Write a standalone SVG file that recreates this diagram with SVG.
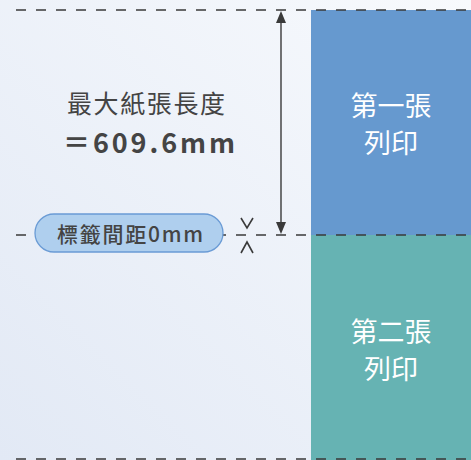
<svg xmlns="http://www.w3.org/2000/svg" width="471" height="460" viewBox="0 0 471 460">
<defs>
<linearGradient id="bg" x1="1" y1="0" x2="0" y2="1">
<stop offset="0" stop-color="#F8FAFD"/>
<stop offset="1" stop-color="#E2E9F5"/>
</linearGradient>
<style>
.dash{stroke:#3a3a3a;stroke-width:1.3;stroke-dasharray:10 10;fill:none}
.cjk{font-family:"Noto Sans CJK TC","Noto Sans",sans-serif}
.dark{fill:#444}
.white{fill:#fff}
</style>
</defs>
<rect width="471" height="460" fill="url(#bg)"/>
<g id="sheet1">
<rect x="311" y="10" width="160" height="225" fill="#6699CF"/>
<text class="cjk white" x="391" y="116" font-size="27" text-anchor="middle">第一張</text>
<text class="cjk white" x="391" y="153" font-size="27" text-anchor="middle">列印</text>
</g>
<g id="sheet2">
<rect x="311" y="235" width="160" height="225" fill="#66B3B3"/>
<text class="cjk white" x="391" y="342" font-size="27" text-anchor="middle">第二張</text>
<text class="cjk white" x="391" y="379" font-size="27" text-anchor="middle">列印</text>
</g>
<g id="guides">
<line class="dash" x1="16" y1="10" x2="471" y2="10"/>
<line class="dash" x1="16" y1="235" x2="471" y2="235"/>
<line class="dash" x1="16" y1="459" x2="471" y2="459"/>
</g>
<g id="connectors">
<line x1="281" y1="22" x2="281" y2="223" stroke="#3a3a3a" stroke-width="1.4"/>
<path d="M281,11 L276,23 L286,23 Z" fill="#3a3a3a"/>
<path d="M281,234 L276,222 L286,222 Z" fill="#3a3a3a"/>
<polyline points="241,218 247,228 253,218" fill="none" stroke="#3a3a3a" stroke-width="1.6"/>
<polyline points="241,253 247,242 253,253" fill="none" stroke="#3a3a3a" stroke-width="1.6"/>
</g>
<g id="max-length">
<text class="cjk dark" x="67" y="113" font-size="25" textLength="158" lengthAdjust="spacing">最大紙張長度</text>
<text class="cjk dark" x="63" y="153" font-size="27" font-weight="600" textLength="172" lengthAdjust="spacing">＝609.6mm</text>
</g>
<g id="gap-label">
<rect x="35" y="214" width="188" height="38" rx="19" fill="#AFCFEE" stroke="#6A9BD5" stroke-width="1.3"/>
<text class="cjk dark" x="57" y="242" font-size="21" font-weight="500" textLength="146" lengthAdjust="spacing">標籤間距0mm</text>
</g>
</svg>
